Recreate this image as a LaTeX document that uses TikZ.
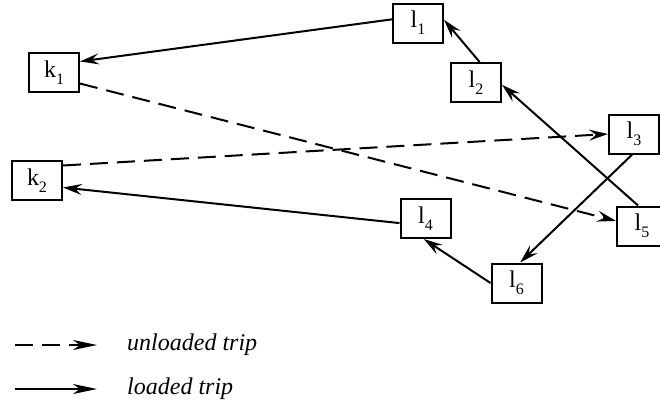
\documentclass[tikz,border=0pt]{standalone}
\usepackage{fontspec}
\setmainfont{Liberation Serif}
\usetikzlibrary{arrows.meta}
\newcommand\lbl[2]{#1\raisebox{-0.28em}{\fontsize{16}{16}\selectfont #2}}
\begin{document}
\begin{tikzpicture}[x=1pt,y=-1pt,
  box/.style={draw, line width=2pt, minimum width=50pt, minimum height=39pt, inner sep=0pt, font=\fontsize{24}{26}\selectfont},
  trip/.style={line width=2pt, -{Stealth[length=19pt,width=11pt,inset=7pt]}},
  emptytrip/.style={trip, dash pattern=on 18pt off 9pt},
  legtext/.style={anchor=west, inner sep=0pt, font=\fontsize{24}{26}\selectfont\itshape}]
\useasboundingbox (0,0) rectangle (660,407);
\node[box] (k1) at (54,72.5) {\lbl{k}{1}};
\node[box] (k2) at (37,180.5) {\lbl{k}{2}};
\node[box] (l1) at (418,23) {\lbl{l}{1}};
\node[box] (l2) at (476,82.5) {\lbl{l}{2}};
\node[box] (l3) at (634,134) {\lbl{l}{3}};
\node[box] (l4) at (425.5,218.5) {\lbl{l}{4}};
\node[box] (l5) at (642,226) {\lbl{l}{5}};
\node[box] (l6) at (516.5,283) {\lbl{l}{6}};
% loaded trips
\draw[trip] (l1.172) -- (k1.23);
\draw[trip] (l2.80) -- (l1.7);
\draw[trip] (l5.101) -- (l2.-5);
\draw[trip] (l3.-95) -- (l6.80);
\draw[trip] (l6.west) -- (l4.-95);
\draw[trip] (l4.-170) -- (k2.-15);
% unloaded trips
\draw[emptytrip] (k1.-23) -- (l5.169);
\draw[emptytrip] (k2.30) -- (l3.west);
% legend
\coordinate (u0) at (15,345);
\coordinate (u1) at (97,345);
\coordinate (s0) at (15,389);
\coordinate (s1) at (97,389);
\draw[emptytrip, -{Stealth[length=24pt,width=10pt,inset=7pt]}] (u0) -- (u1);
\draw[trip, -{Stealth[length=24pt,width=10pt,inset=7pt]}] (s0) -- (s1);
\node[legtext] (tu) at (127,345) {unloaded trip};
\node[legtext] (ts) at (127,389) {loaded trip};
\end{tikzpicture}
\end{document}
